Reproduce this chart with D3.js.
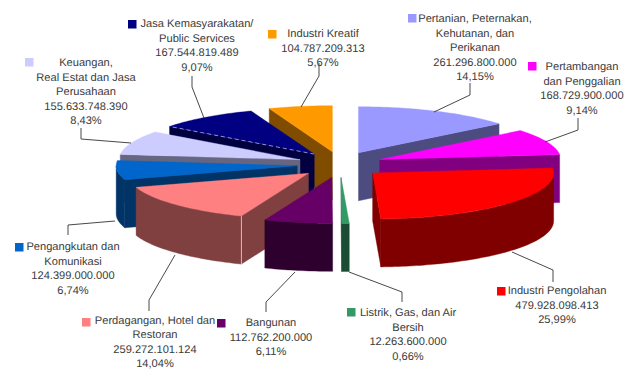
<!DOCTYPE html>
<html>
<head>
<meta charset="utf-8">
<script src="https://cdn.jsdelivr.net/npm/d3@7/dist/d3.min.js"></script>
<style>
html,body{margin:0;padding:0;background:#fff}
svg{display:block}
text{font-family:"Liberation Sans",Arial,sans-serif;font-size:11.1px;fill:#3a3a3a;text-anchor:middle;text-rendering:geometricPrecision}
</style>
</head>
<body>
<svg id="chart" width="624" height="369"></svg>
<script>
// GDP by sector, in rupiah
const sectors = [
  ["Pertanian, Peternakan,", "Kehutanan, dan", "Perikanan"],
  ["Pertambangan", "dan Penggalian"],
  ["Industri Pengolahan"],
  ["Listrik, Gas, dan Air", "Bersih"],
  ["Bangunan"],
  ["Perdagangan, Hotel dan", "Restoran"],
  ["Pengangkutan dan", "Komunikasi"],
  ["Keuangan,", "Real Estat dan Jasa", "Perusahaan"],
  ["Jasa Kemasyarakatan/", "Public Services"],
  ["Industri Kreatif"]
];
const values = [261296800000, 168729900000, 479928098413, 12263600000, 112762200000,
                259272101124, 124399000000, 155633748390, 167544819489, 104787209313];
const topColors  = ["#9999ff", "#ff00ff", "#ff0000", "#339966", "#660066",
                    "#ff8080", "#0066cc", "#ccccff", "#000080", "#ff9900"];
const sideColors = ["#4c4c80", "#800080", "#800000", "#1a4d33", "#2e002e",
                    "#804040", "#003366", "#666680", "#000040", "#804c00"];

// label block: centre x, first line's baseline, swatch left and top
const labelX   = [475, 582, 557, 408, 271, 155, 73, 86, 197, 323];
const labelY   = [22, 70, 294, 316, 326, 323.5, 250, 66, 27, 37];
const swatchX  = [408, 528, 497, 347, 217, 82, 15, 25, 128, 268];
const swatchY  = [14, 62, 287, 308, 319, 318, 243, 58, 20, 30];
// leader polylines, from the label down to the slice
const leaders = [
  [[470,83],[470,95],[434,112]],
  [[578,118],[578,130],[545,142]],
  [[553,282],[553,270],[512,252]],
  [[402,302],[402,292],[349,272]],
  [[266,312],[266,302],[295,272]],
  [[149,311],[149,300],[175,255]],
  [[68,235],[68,225],[115,221]],
  [[81,128],[81,139],[131,143]],
  [[192,76],[192,87],[204,118]],
  [[319,63],[319,76],[301,107]]
];

// pie geometry: a flattened disc with every slice pulled out along its mid-angle
const cx = 340, cy = 164.5, rx = 181, ry = 46, depth = 48;
const explodeX = 43, explodeY = 13;

const svg = d3.select("#chart");
const x = d3.scaleLinear().domain([-1, 1]).range([-rx, rx]);
const y = d3.scaleLinear().domain([-1, 1]).range([-ry, ry]);
const pie = d3.pie().sort(null).startAngle(0).endAngle(2 * Math.PI);
const line = d3.line();
const total = d3.sum(values);
const idLocale = d3.formatLocale({decimal: ",", thousands: ".", grouping: [3], currency: ["", ""]});
const fmtValue = idLocale.format(",d");
const fmtPct = idLocale.format(".2f");

const slices = pie(values).map((d, i) => {
  const mid = (d.startAngle + d.endAngle) / 2;
  return {
    ...d, i, mid,
    ax: cx + explodeX * Math.sin(mid),
    ay: cy - explodeY * Math.cos(mid)
  };
});

const rim = (s, t) => [s.ax + x(Math.sin(t)), s.ay - y(Math.cos(t))];
const drop = p => [p[0], p[1] + depth];

function arcPoints(s, a, b) {
  const n = Math.max(2, Math.ceil((b - a) / 0.02));
  return d3.range(n + 1).map(k => rim(s, a + (b - a) * k / n));
}

// back-to-front painting order
const order = slices.slice().sort((p, q) => (-Math.cos(p.mid)) - (-Math.cos(q.mid)));

const g = svg.append("g");
order.forEach(s => {
  const top = topColors[s.i], side = sideColors[s.i];
  const sg = g.append("g");
  const apex = [s.ax, s.ay];

  // radial walls that face the viewer
  [[s.startAngle, s.startAngle - Math.PI / 2], [s.endAngle, s.endAngle + Math.PI / 2]].forEach(([t, n]) => {
    if (Math.cos(n) < 0) {
      const e = rim(s, t);
      sg.append("path")
        .attr("d", line([apex, e, drop(e), drop(apex)]) + "Z")
        .attr("fill", side).attr("stroke", side).attr("stroke-width", 0.4);
    }
  });

  // curved outer wall, only the front half of the rim
  const a = Math.max(s.startAngle, Math.PI / 2), b = Math.min(s.endAngle, 3 * Math.PI / 2);
  if (b > a) {
    const pts = arcPoints(s, a, b);
    sg.append("path")
      .attr("d", line(pts.concat(pts.slice().reverse().map(drop))) + "Z")
      .attr("fill", side).attr("stroke", side).attr("stroke-width", 0.4);
  }

  // top face
  sg.append("path")
    .attr("d", line([apex].concat(arcPoints(s, s.startAngle, s.endAngle))) + "Z")
    .attr("fill", top).attr("stroke", top).attr("stroke-width", 0.4);

  // pale seams seen on two of the slices
  if (s.i === 8) {
    sg.append("path").attr("d", line([apex, rim(s, s.startAngle)]))
      .attr("stroke", "#b0b0e0").attr("stroke-width", 0.8).attr("stroke-dasharray", "4 3").attr("fill", "none");
  }
  if (s.i === 5) {
    const e = rim(s, s.startAngle);
    sg.append("path").attr("d", line([e, drop(e)]))
      .attr("stroke", "#e8d8d8").attr("stroke-width", 0.8).attr("fill", "none");
  }
});

// leader lines
svg.append("g").selectAll("path").data(leaders).join("path")
  .attr("d", d => line(d))
  .attr("fill", "none").attr("stroke", "#333").attr("stroke-width", 0.9);

// swatches and label blocks
const lh = 14.5;
const lab = svg.append("g");
sectors.forEach((names, i) => {
  lab.append("rect")
    .attr("x", swatchX[i]).attr("y", swatchY[i]).attr("width", 8.5).attr("height", 8.5)
    .attr("fill", topColors[i]);
  const lines = names.concat([fmtValue(values[i]), fmtPct(values[i] / total * 100) + "%"]);
  lab.append("text").selectAll("tspan").data(lines).join("tspan")
    .attr("x", labelX[i])
    .attr("y", (d, k) => labelY[i] + k * lh)
    .text(d => d);
});
</script>
</body>
</html>
